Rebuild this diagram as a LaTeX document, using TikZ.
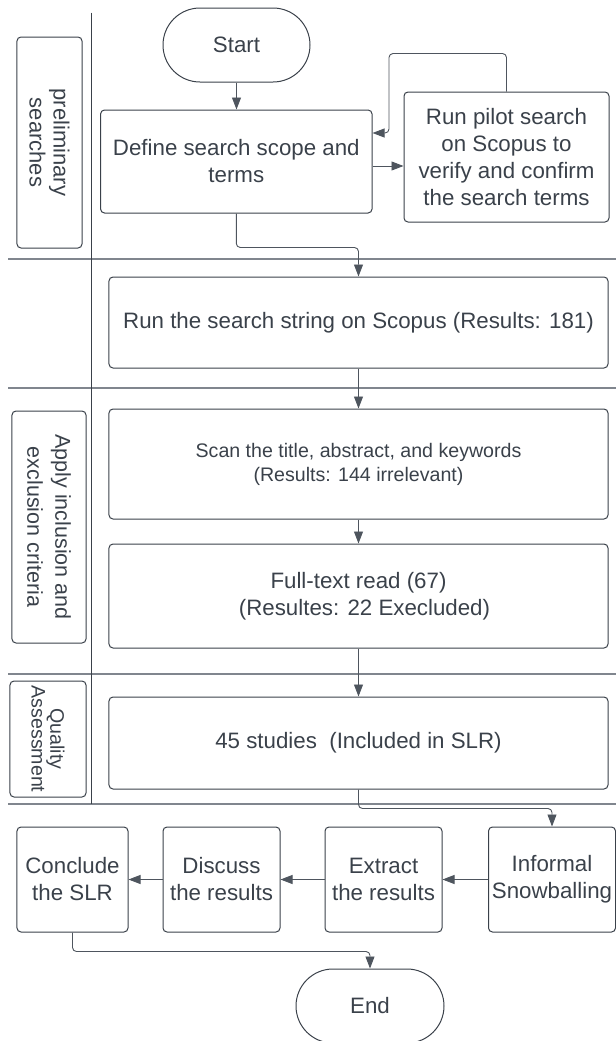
\documentclass[tikz,border=0pt]{standalone}
\usepackage{fontspec}
\setmainfont{Liberation Sans}
\usetikzlibrary{arrows.meta}
\definecolor{ink}{HTML}{3A414A}
\definecolor{sep}{HTML}{80868E}
\definecolor{conn}{HTML}{4E555E}
\begin{document}
\begin{tikzpicture}[x=1bp,y=-1bp,
  box/.style={draw=ink, line width=1bp, rounded corners=4bp, align=center, text=ink, inner sep=0pt, font=\fontsize{22.3bp}{27bp}\selectfont},
  term/.style={box, rounded corners=37bp},
  lane/.style={box, rotate=-90},
  arr/.style={draw=conn, line width=0.9bp, rounded corners=4bp, -{Triangle[length=12bp,width=9bp]}},
  sepline/.style={draw=sep, line width=1.6bp},
  laneline/.style={draw=ink, line width=1bp},
]
\useasboundingbox (0,0) rectangle (616,1041);

% swimlane separators
\draw[sepline] (8,259) -- (616,259);
\draw[sepline] (8,388) -- (616,388);
\draw[sepline] (8,674) -- (616,674);
\draw[sepline] (8,804) -- (616,804);
\draw[laneline] (91.7,12.7) -- (91.7,804);

% lane labels
\node[lane, minimum width=211bp, minimum height=65bp, font=\fontsize{22bp}{24bp}\selectfont] (lprelim) at (49.5,142.5) {preliminary\\searches};
\node[lane, minimum width=232bp, minimum height=74bp, font=\fontsize{21.5bp}{28bp}\selectfont] (lapply) at (49,527) {Apply inclusion and\\exclusion criteria};
\node[lane, minimum width=116bp, minimum height=76bp, font=\fontsize{19.6bp}{16bp}\selectfont] (lqual) at (48,739) {Quality\\Assessment};

% main flow
\node[term, minimum width=147bp, minimum height=74bp] (start) at (236.5,45) {Start};
\node[box, minimum width=271.5bp, minimum height=103bp] (define) at (236.3,161.5) {Define search scope and\\terms};
\node[box, minimum width=205bp, minimum height=130bp] (pilot) at (506.5,157) {Run pilot search\\on Scopus to\\verify and confirm\\the search terms};
\node[box, minimum width=499bp, minimum height=91bp] (run) at (358.5,322.5) {Run the search string on Scopus (Results: 181)};
\node[box, minimum width=499bp, minimum height=110bp, font=\fontsize{19.6bp}{24bp}\selectfont] (scan) at (358.5,464) {Scan the title, abstract, and keywords\\(Results: 144 irrelevant)};
\node[box, minimum width=499bp, minimum height=104bp] (full) at (358.5,596) {Full-text read (67)\\\hspace*{12bp}(Resultes: 22 Execluded)};
\node[box, minimum width=499bp, minimum height=92bp] (studies) at (358.5,743) {45 studies\ \ (Included in SLR)};

\node[box, minimum width=111bp, minimum height=105bp] (conclude) at (72.5,879.5) {Conclude\\the SLR};
\node[box, minimum width=117bp, minimum height=105bp] (discuss) at (221.5,879.5) {Discuss\\the results};
\node[box, minimum width=117bp, minimum height=105bp] (extract) at (383.5,879.5) {Extract\\the results};
\node[box, minimum width=127bp, minimum height=105bp] (informal) at (552,879.5) {Informal\\Snowballing};
\node[term, minimum width=148bp, minimum height=74bp] (end) at (370,1006) {End};

% connectors
\draw[arr] (start.south) -- (start.south |- define.north);
\draw[arr] ([yshift=-4.5bp]define.east) -- ([yshift=-4.5bp]define.east -| pilot.west);
\draw[arr] (pilot.north) -- ++(0,-38) -| (389,133) -- (define.east |- 389,133);
\draw[arr] (define.south) -- ++(0,34) -| (run.north);
\draw[arr] (run.south) -- (scan.north);
\draw[arr] (scan.south) -- (full.north);
\draw[arr] (full.south) -- (studies.north);
\draw[arr] (studies.south) -- ++(0,19) -| (informal.north);
\draw[arr] (informal.west) -- (extract.east);
\draw[arr] (extract.west) -- (discuss.east);
\draw[arr] (discuss.west) -- (conclude.east);
\draw[arr] (conclude.south) -- ++(0,19) -| (end.north);
\end{tikzpicture}
\end{document}
